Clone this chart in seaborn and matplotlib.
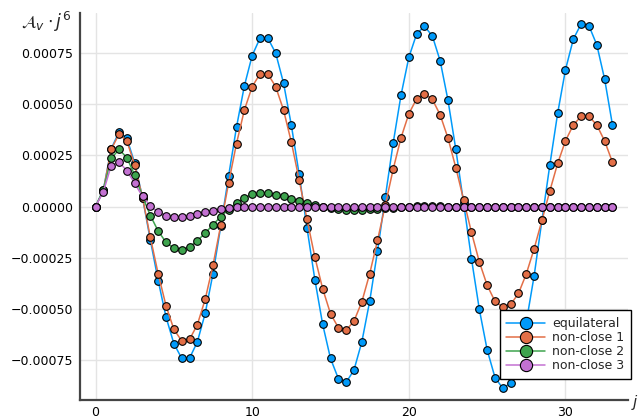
import numpy as np
import pandas as pd
import matplotlib
matplotlib.use("Agg")
import matplotlib.pyplot as plt
import seaborn as sns
from matplotlib.ticker import FuncFormatter

# ---- data (values in units of 1e-4) ----
j = np.arange(0, 33.5, 0.5)

equilateral = [0.00, 0.81, 2.82, 3.64, 3.33, 2.13, 0.44, -1.64, -3.62, -5.40,
               -6.70, -7.42, -7.42, -6.62, -5.23, -3.28, -0.95, 1.51, 3.88, 5.89,
               7.38, 8.23, 8.23, 7.50, 6.04, 3.98, 1.57, -1.05, -3.57, -5.76,
               -7.43, -8.41, -8.60, -7.99, -6.62, -4.64, -2.19, 0.47, 3.10, 5.44,
               7.29, 8.44, 8.81, 8.34, 7.12, 5.19, 2.79, 0.15, -2.56, -5.03,
               -7.01, -8.36, -8.89, -8.63, -7.55, -5.65, -3.38, -0.65, 2.03, 4.56,
               6.69, 8.18, 8.93, 8.83, 7.90, 6.22, 3.98]

non_close_1 = [0.00, 0.78, 2.79, 3.54, 3.20, 2.04, 0.44, -1.51, -3.29, -4.85,
               -6.00, -6.57, -6.50, -5.78, -4.54, -2.87, -0.89, 1.17, 3.08, 4.71,
               5.86, 6.48, 6.48, 5.86, 4.72, 3.15, 1.30, -0.62, -2.47, -4.02,
               -5.24, -5.92, -6.05, -5.60, -4.66, -3.29, -1.66, 0.08, 1.82, 3.36,
               4.53, 5.27, 5.52, 5.24, 4.48, 3.34, 1.90, 0.32, -1.27, -2.71,
               -3.85, -4.64, -4.92, -4.79, -4.25, -3.29, -2.06, -0.67, 0.76, 2.11,
               3.21, 3.99, 4.41, 4.41, 3.98, 3.20, 2.16]

non_close_2 = [0.00, 0.81, 2.35, 2.79, 2.39, 1.53, 0.49, -0.44, -1.20, -1.75,
               -2.04, -2.11, -1.98, -1.67, -1.30, -0.89, -0.49, -0.15, 0.19, 0.41,
               0.60, 0.65, 0.65, 0.58, 0.49, 0.37, 0.28, 0.19, 0.08, 0.00,
               -0.08, -0.13, -0.16, -0.16, -0.16, -0.14, -0.12, -0.08, -0.05, -0.02,
               0.00, 0.01, 0.02, 0.02, 0.01, 0.00, 0.00, 0.00, 0.00, 0.00,
               0.00, 0.00, 0.00, 0.00, 0.00, 0.00, 0.00, 0.00, 0.00, 0.00,
               0.00, 0.00, 0.00, 0.00, 0.00, 0.00, 0.00]

non_close_3 = [0.00, 0.72, 2.00, 2.17, 1.76, 1.13, 0.49, 0.03, -0.28, -0.45,
               -0.52, -0.52, -0.47, -0.37, -0.29, -0.21, -0.13, -0.08, -0.04, -0.02,
               0.00, 0.00, 0.00, 0.00, 0.00, 0.00, 0.00, 0.00, 0.00, 0.00,
               0.00, 0.00, 0.00, 0.00, 0.00, 0.00, 0.00, 0.00, 0.00, 0.00,
               0.00, 0.00, 0.00, 0.00, 0.00, 0.00, 0.00, 0.00, 0.00, 0.00,
               0.00, 0.00, 0.00, 0.00, 0.00, 0.00, 0.00, 0.00, 0.00, 0.00,
               0.00, 0.00, 0.00, 0.00, 0.00, 0.00, 0.00]

series_names = ["equilateral", "non-close 1", "non-close 2", "non-close 3"]
series_values = [equilateral, non_close_1, non_close_2, non_close_3]
colors = ["#009AFA", "#E36F47", "#3EA44E", "#C371D2"]

y_ticks = [-0.00075, -0.0005, -0.00025, 0.0, 0.00025, 0.0005, 0.00075]
x_ticks = [0, 10, 20, 30]

frames = []
for name, vals in zip(series_names, series_values):
    frames.append(pd.DataFrame({"j": j, "A": np.array(vals) * 1e-4, "series": name}))
df = pd.concat(frames, ignore_index=True)

# ---- style ----
sns.set_style("white")
plt.rcParams["font.family"] = ["DejaVu Sans"]

W, H = 639, 417
fig = plt.figure(figsize=(W / 100, H / 100), dpi=100)
ax = fig.add_axes([80 / W, 1 - 400 / H, 548 / W, 387 / H])

sns.lineplot(data=df, x="j", y="A", hue="series", hue_order=series_names,
             palette=dict(zip(series_names, colors)), marker="o", markersize=5.5,
             markeredgecolor="black", markeredgewidth=0.8, linewidth=1.1,
             sort=False, ax=ax)

ax.set_xlim(-0.99, 33.99)
ax.set_ylim(-9.46e-4, 9.46e-4)
ax.set_xticks(x_ticks)
ax.set_yticks(y_ticks)
ax.yaxis.set_major_formatter(FuncFormatter(lambda v, p: f"{v:.5f}".replace("-", "\u2212")))
ax.set_xlabel("")
ax.set_ylabel("")

ax.grid(True, color="#e4e4e4", linewidth=1)
ax.set_axisbelow(True)
for s in ["top", "right"]:
    ax.spines[s].set_visible(False)
for s in ["left", "bottom"]:
    ax.spines[s].set_color("#444444")
    ax.spines[s].set_linewidth(1.6)
ax.tick_params(direction="in", length=4, width=1, color="#444444",
               labelsize=9, labelcolor="black", pad=5)
ax.tick_params(axis="x", pad=4)

fig.text(71 / W, 1 - 22 / H, r"$\mathcal{A}_v \cdot j^6$", ha="right", va="center", fontsize=12.5)
fig.text(631 / W, 1 - 402 / H, r"$j$", ha="left", va="center", fontsize=11)

handles, labels = ax.get_legend_handles_labels()
leg = ax.legend(handles, labels, loc="lower right",
                bbox_to_anchor=(631 / W, 1 - 379 / H), bbox_transform=fig.transFigure,
                borderaxespad=0, fontsize=9, markerscale=1.6, frameon=True,
                fancybox=False, edgecolor="black", framealpha=1,
                labelspacing=0.08, handlelength=3.1, handletextpad=0.55,
                borderpad=0.55)
leg.get_frame().set_linewidth(1.0)

fig.savefig("out.png", dpi=100)
